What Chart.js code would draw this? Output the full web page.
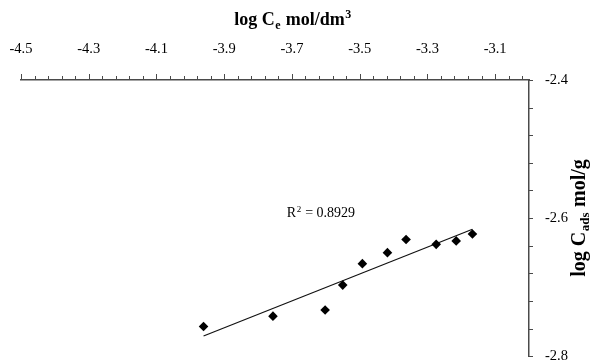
<!DOCTYPE html>
<html>
<head>
<meta charset="utf-8">
<title>Adsorption isotherm</title>
<script src="https://cdn.jsdelivr.net/npm/chart.js@4.4.0/dist/chart.umd.min.js"></script>
<style>
  html, body { margin: 0; padding: 0; background: #fff; }
  canvas { display: block; }
</style>
</head>
<body>
<canvas id="isotherm" width="593" height="361"></canvas>
<script>
// ── data: log Ce (mol/dm3) vs log Cads (mol/g) ──────────
const logCe   = [-3.961, -3.756, -3.602, -3.550, -3.492, -3.418, -3.363, -3.274, -3.215, -3.167];
const logCads = [-2.757, -2.742, -2.733, -2.697, -2.666, -2.650, -2.631, -2.638, -2.633, -2.623];

const xTicks = [-4.5, -4.3, -4.1, -3.9, -3.7, -3.5, -3.3, -3.1];
const yTicks = [-2.8, -2.6, -2.4];
const rSquared = '0.8929';

const SERIF = "'Liberation Serif', 'Times New Roman', serif";
const AXIS_COLOR = '#4a4a4a';

// ── least squares fit for the trendline ─────────────────
function linearFit(xs, ys) {
  const n = xs.length;
  const mx = xs.reduce((a, b) => a + b, 0) / n;
  const my = ys.reduce((a, b) => a + b, 0) / n;
  let sxy = 0, sxx = 0;
  for (let i = 0; i < n; i++) {
    sxy += (xs[i] - mx) * (ys[i] - my);
    sxx += (xs[i] - mx) * (xs[i] - mx);
  }
  const slope = sxy / sxx;
  return { slope, intercept: my - slope * mx };
}

const fit = linearFit(logCe, logCads);
const xLo = Math.min(...logCe), xHi = Math.max(...logCe);
const fitLine = [
  { x: xLo, y: fit.intercept + fit.slope * xLo },
  { x: xHi, y: fit.intercept + fit.slope * xHi }
];
const points = logCe.map((x, i) => ({ x, y: logCads[i] }));

// text with small raised / lowered parts, e.g. ['C', ['sub','e']]
function richWidth(ctx, parts, size, weight) {
  let w = 0;
  parts.forEach(p => {
    if (typeof p === 'string') { ctx.font = weight + ' ' + size + 'px ' + SERIF; w += ctx.measureText(p).width; }
    else { ctx.font = weight + ' ' + Math.round(size * 0.65) + 'px ' + SERIF; w += ctx.measureText(p[1]).width + 1; }
  });
  return w;
}
function drawRich(ctx, parts, x, y, size, weight) {
  parts.forEach(p => {
    if (typeof p === 'string') {
      ctx.font = weight + ' ' + size + 'px ' + SERIF;
      ctx.fillText(p, x, y);
      x += ctx.measureText(p).width;
    } else {
      const small = Math.round(size * 0.65);
      ctx.font = weight + ' ' + small + 'px ' + SERIF;
      const dy = p[0] === 'sup' ? -size * 0.4 : size * 0.22;
      ctx.fillText(p[1], x + 0.5, y + dy);
      x += ctx.measureText(p[1]).width + 1;
    }
  });
}

// ── tick marks (major + minor) and axis titles ──────────
const decorPlugin = {
  id: 'decor',
  afterDraw(chart) {
    const ctx = chart.ctx;
    const xs = chart.scales.x, ys = chart.scales.y;
    ctx.save();
    ctx.strokeStyle = AXIS_COLOR;
    ctx.lineWidth = 1;

    // top axis: minor step 0.04, major every 0.2
    const yAxis = xs.bottom;
    for (let i = 0; i * 0.04 <= 1.5 + 1e-9; i++) {
      const px = Math.round(xs.getPixelForValue(-4.5 + i * 0.04)) + 0.5;
      const len = i % 5 === 0 ? 6 : 4;
      ctx.beginPath();
      ctx.moveTo(px, yAxis);
      ctx.lineTo(px, yAxis - len);
      ctx.stroke();
    }
    // right axis: step 0.04
    const xAxis = ys.left;
    for (let i = 0; i <= 10; i++) {
      const py = Math.round(ys.getPixelForValue(-2.8 + i * 0.04)) + 0.5;
      ctx.beginPath();
      ctx.moveTo(xAxis, py);
      ctx.lineTo(xAxis + 4, py);
      ctx.stroke();
    }

    ctx.fillStyle = '#000';
    ctx.textBaseline = 'alphabetic';

    // x title
    const xt = ['log C', ['sub', 'e'], ' mol/dm', ['sup', '3']];
    const xw = richWidth(ctx, xt, 18, 'bold');
    drawRich(ctx, xt, 293 - xw / 2, 25, 18, 'bold');

    // y title, rotated
    const yt = ['log C', ['sub', 'ads'], ' mol/g'];
    const yw = richWidth(ctx, yt, 20, 'bold');
    ctx.save();
    ctx.translate(585, 218);
    ctx.rotate(-Math.PI / 2);
    drawRich(ctx, yt, -yw / 2, 0, 20, 'bold');
    ctx.restore();

    // R squared label
    const o = chart.options.plugins.decor;
    const lx = xs.getPixelForValue(o.labelX);
    const ly = ys.getPixelForValue(o.labelY);
    drawRich(ctx, ['R', ['sup', '2'], ' = ' + rSquared], lx, ly, 14, 'normal');

    ctx.restore();
  }
};

new Chart(document.getElementById('isotherm'), {
  type: 'scatter',
  data: {
    datasets: [
      {
        label: 'data',
        data: points,
        pointStyle: 'rectRot',
        pointRadius: 4.8,
        backgroundColor: '#000',
        borderColor: '#000',
        borderWidth: 0
      },
      {
        label: 'fit',
        type: 'line',
        data: fitLine,
        borderColor: '#111',
        borderWidth: 1.2,
        pointRadius: 0,
        fill: false
      }
    ]
  },
  options: {
    responsive: false,
    animation: false,
    devicePixelRatio: 1,
    layout: { padding: { left: 21, right: 0, top: 0, bottom: 3 } },
    plugins: {
      legend: { display: false },
      tooltip: { enabled: false },
      decor: { labelX: -3.715, labelY: -2.599 }
    },
    scales: {
      x: {
        type: 'linear',
        position: 'top',
        min: -4.5,
        max: -3.0,
        afterBuildTicks: s => { s.ticks = xTicks.map(v => ({ value: v })); },
        afterFit: s => { s.height = 80; s.paddingLeft = 0; s.paddingRight = 0; },
        ticks: {
          callback: v => v.toFixed(1),
          font: { family: SERIF, size: 14.5 },
          color: '#000',
          padding: 22,
          maxRotation: 0,
          autoSkip: false
        },
        grid: { display: false, drawTicks: false },
        border: { display: true, color: AXIS_COLOR, width: 1.5 }
      },
      y: {
        type: 'linear',
        position: 'right',
        min: -2.8,
        max: -2.4,
        afterBuildTicks: s => { s.ticks = yTicks.map(v => ({ value: v })); },
        afterFit: s => { s.width = 64; s.paddingTop = 0; s.paddingBottom = 0; },
        ticks: {
          callback: v => v.toFixed(1),
          font: { family: SERIF, size: 14.5 },
          color: '#000',
          padding: 16
        },
        grid: { display: false, drawTicks: false },
        border: { display: true, color: AXIS_COLOR, width: 1.5 }
      }
    }
  },
  plugins: [decorPlugin]
});
</script>
</body>
</html>
